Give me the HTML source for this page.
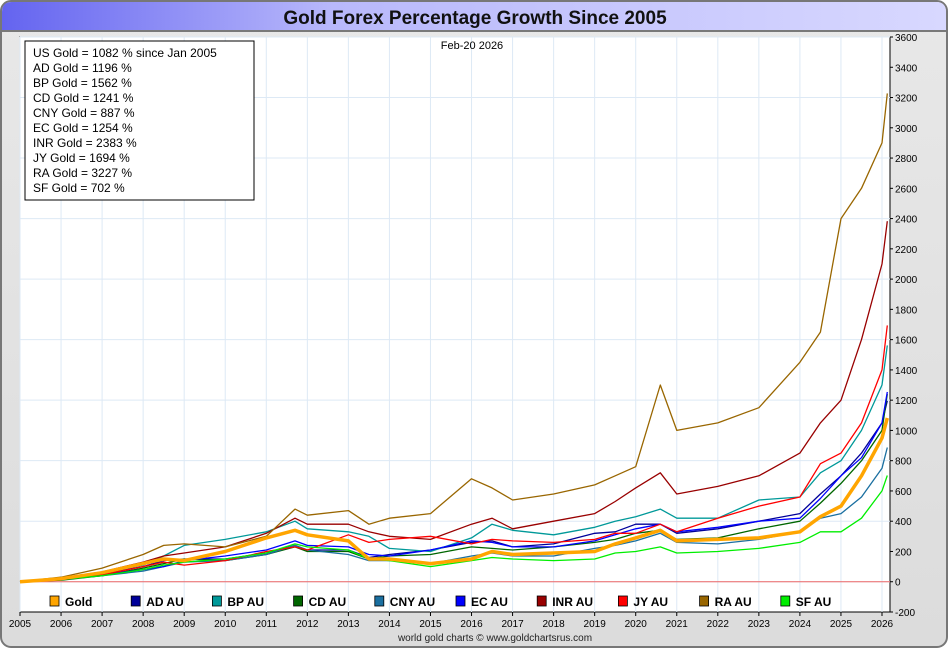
<!DOCTYPE html>
<html><head><meta charset="utf-8"><style>
html,body{margin:0;padding:0;background:#fff;}
body{width:950px;height:650px;overflow:hidden;font-family:"Liberation Sans",sans-serif;}
</style></head><body>
<svg width="950" height="650" xmlns="http://www.w3.org/2000/svg">
<defs>
<linearGradient id="tb" x1="0" x2="1" y1="0" y2="0"><stop offset="0" stop-color="#6464f0"/><stop offset="0.35" stop-color="#b8b8fb"/><stop offset="1" stop-color="#d8d8ff"/></linearGradient>
<linearGradient id="bg" x1="0" x2="0" y1="0" y2="1"><stop offset="0" stop-color="#e8e8e8"/><stop offset="1" stop-color="#dcdcdc"/></linearGradient>
</defs>
<rect x="1" y="1" width="946" height="646" rx="10" fill="url(#bg)" stroke="#777" stroke-width="2"/>
<path d="M2,30 L2,12 Q2,2 12,2 L936,2 Q946,2 946,12 L946,30 Z" fill="url(#tb)"/>
<line x1="2" y1="31" x2="946" y2="31" stroke="#555" stroke-width="1.5"/>
<text x="475" y="24" text-anchor="middle" font-size="19" font-weight="bold" fill="#111">Gold Forex Percentage Growth Since 2005</text>
<rect x="20" y="37" width="870" height="575" fill="#fff" stroke="#000" stroke-width="1"/>
<g id="grid"></g>
<g id="series"></g>
<g id="axes"></g>
<text x="472" y="49" text-anchor="middle" font-size="11" fill="#000">Feb-20  2026</text>
<g>
<rect x="25" y="41" width="229" height="159" fill="#fff" stroke="#000" stroke-width="1"/>
<g font-size="12" fill="#000">
<text x="33" y="57">US Gold = 1082 % since Jan 2005</text>
<text x="33" y="72">AD Gold = 1196 %</text>
<text x="33" y="87">BP Gold = 1562 %</text>
<text x="33" y="102">CD Gold = 1241 %</text>
<text x="33" y="117">CNY Gold = 887 %</text>
<text x="33" y="132">EC Gold = 1254 %</text>
<text x="33" y="147">INR Gold = 2383 %</text>
<text x="33" y="162">JY Gold = 1694 %</text>
<text x="33" y="177">RA Gold = 3227 %</text>
<text x="33" y="192">SF Gold = 702 %</text>
</g></g>
<g id="legend"></g>
<text x="495" y="641" text-anchor="middle" font-size="10" fill="#222">world gold charts © www.goldchartsrus.com</text>
</svg>
<script>
const dates=[2005,2006,2007,2008,2008.5,2009,2010,2011,2011.7,2012,2013,2013.5,2014,2015,2016,2016.5,2017,2018,2019,2019.5,2020,2020.6,2021,2022,2023,2024,2024.5,2025,2025.5,2026,2026.13];
const seriesNames=["Gold","AD AU","BP AU","CD AU","CNY AU","EC AU","INR AU","JY AU","RA AU","SF AU"];
const seriesColors=["#ffa500","#000099","#009999","#006600","#1a6fa0","#0000ff","#990000","#ff0000","#996600","#00ee00"];
const gold=[0,20,60,120,150,140,200,290,340,310,270,150,150,120,150,200,180,190,200,250,290,340,270,280,290,330,430,500,700,950,1082];
const ad=[0,25,55,100,140,150,150,190,240,210,210,160,180,210,260,270,230,250,320,330,380,380,320,350,400,450,580,700,850,1050,1196];
const bp=[0,25,60,110,170,240,280,330,400,350,330,300,220,200,290,380,340,310,360,400,430,480,420,420,540,560,720,800,1000,1300,1562];
const cd=[0,10,40,90,120,150,140,180,230,200,200,150,170,180,230,220,210,230,260,280,320,340,280,290,350,400,520,650,800,1000,1241];
const cny=[0,15,40,70,100,130,140,180,240,210,180,140,140,120,170,190,170,170,220,240,270,320,260,250,280,330,420,450,560,750,887];
const ec=[0,20,45,80,100,140,170,210,270,240,230,180,170,210,270,260,230,230,270,310,350,380,330,360,400,420,550,700,820,1050,1254];
const inr=[0,25,65,130,170,190,230,320,420,380,380,330,300,280,380,420,350,400,450,530,620,720,580,630,700,850,1050,1200,1600,2100,2383];
const jy=[0,15,45,100,130,110,140,200,230,210,310,260,280,300,250,280,270,260,280,320,320,380,330,420,500,560,780,850,1050,1400,1694];
const ra=[0,30,90,180,240,250,230,300,480,440,470,380,420,450,680,620,540,580,640,700,760,1300,1000,1050,1150,1450,1650,2400,2600,2900,3227];
const sf=[0,15,40,80,110,130,150,190,250,230,210,150,140,100,140,160,150,140,150,190,200,230,190,200,220,260,330,330,420,600,702];
const yTicks=[-200,0,200,400,600,800,1000,1200,1400,1600,1800,2000,2200,2400,2600,2800,3000,3200,3400,3600];
const xTicks=[2005,2006,2007,2008,2009,2010,2011,2012,2013,2014,2015,2016,2017,2018,2019,2020,2021,2022,2023,2024,2025,2026];
const NS="http://www.w3.org/2000/svg";
const X0=20,X1=890,Y0=37,Y1=612;
function xs(d){return X0+(d-2005)*(862/21);}
function ys(v){return Y1-(v+200)*(Y1-Y0)/3800;}
function mk(t,a,p){const e=document.createElementNS(NS,t);for(const k in a)e.setAttribute(k,a[k]);p.appendChild(e);return e;}
const grid=document.getElementById('grid');
for(const t of xTicks){const l=mk('line',{x1:xs(t),x2:xs(t),y1:Y0,y2:Y1,stroke:'#dde9f5','stroke-width':1},grid);

}
for(let v=3600;v>=-200;v-=400){const l=mk('line',{x1:X0,x2:X1,y1:ys(v),y2:ys(v),stroke:'#dde9f5','stroke-width':1},grid);

}
const zl=mk('line',{x1:X0,x2:X1,y1:ys(0),y2:ys(0),stroke:'#ee6666','stroke-width':1},grid);


const sg=document.getElementById('series');
const all=[gold,ad,bp,cd,cny,ec,inr,jy,ra,sf];
const order=[1,2,3,4,5,6,7,8,9,0];
for(const i of order){const arr=all[i];
const d=arr.map((v,j)=>(j?'L':'M')+xs(dates[j]).toFixed(1)+','+ys(v).toFixed(1)).join(' ');
const p=mk('path',{d:d,fill:'none',stroke:seriesColors[i],'stroke-width':i===0?3.5:1.3,'stroke-linejoin':'round'},sg);

}
const ax=document.getElementById('axes');
for(const t of yTicks){const tx=mk('text',{x:X1+5,y:ys(t)+4,'font-size':10,fill:'#000'},ax);tx.textContent=t;


mk('line',{x1:X1,x2:X1+3,y1:ys(t),y2:ys(t),stroke:'#000'},ax);}
for(const t of xTicks){const tx=mk('text',{x:xs(t),y:627,'font-size':10,'text-anchor':'middle',fill:'#000'},ax);tx.textContent=t;


mk('line',{x1:xs(t),x2:xs(t),y1:Y1,y2:Y1+4,stroke:'#000'},ax);}
const lg=document.getElementById('legend');
for(let i=0;i<10;i++){const g=mk('g',{},lg);


const x=50+i*81.2;
mk('rect',{x:x,y:596,width:9,height:10,fill:seriesColors[i],stroke:'#000','stroke-width':0.8},g);
const tx=mk('text',{x:x+15,y:606,'font-size':12,'font-weight':'bold',fill:'#000'},g);tx.textContent=seriesNames[i];}
</script>
</body></html>
